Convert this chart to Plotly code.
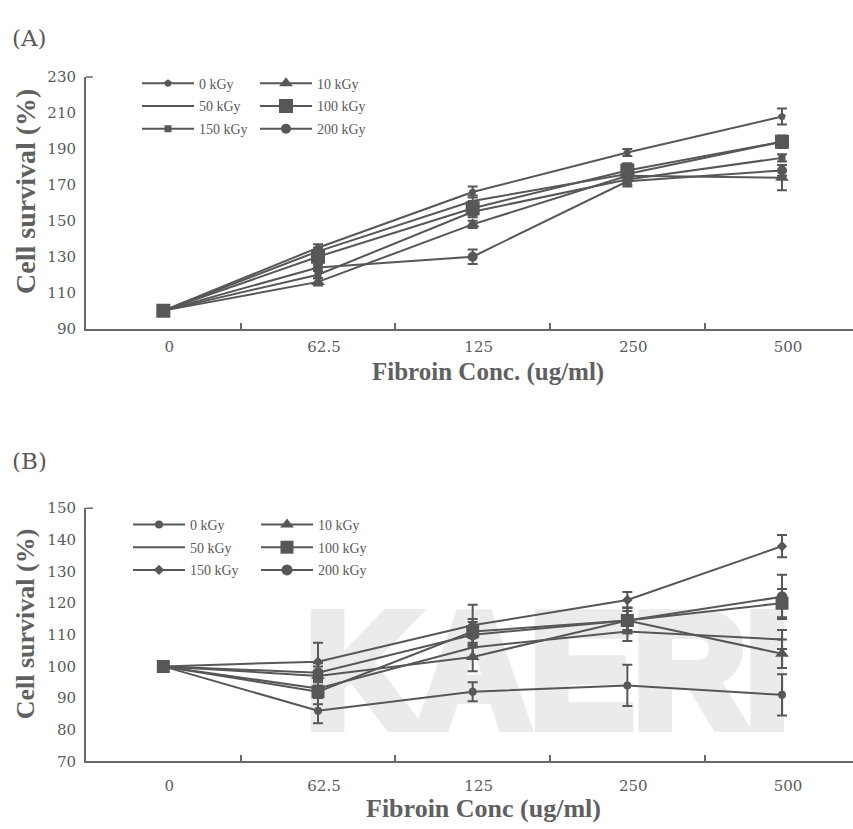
import base64
import plotly.graph_objects as go

# ---------------- data ----------------
categories = ["0", "62.5", "125", "250", "500"]
series_names = ["0 kGy", "10 kGy", "50 kGy", "100 kGy", "150 kGy", "200 kGy"]

# Panel (A)
a_0kgy = [100, 135, 166, 188, 208]
a_0kgy_err = [0, 2, 3, 2, 4.5]
a_10kgy = [100, 116, 148, 175, 174]
a_10kgy_err = [0, 2, 2, 3, 7]
a_50kgy = [100, 133, 161, 176, 194]
a_50kgy_err = [0, 2, 3, 3, 3]
a_100kgy = [100, 130, 157, 178, 194]
a_100kgy_err = [0, 4, 4, 4, 3.5]
a_150kgy = [100, 120, 155, 173, 185]
a_150kgy_err = [0, 2, 3, 3, 2]
a_200kgy = [100, 124, 130, 172, 178]
a_200kgy_err = [0, 2, 4, 3, 3]

# Panel (B)
b_0kgy = [100, 86, 92, 94, 91]
b_0kgy_err = [0, 4, 3, 6.5, 6.5]
b_10kgy = [100, 97, 103, 114.5, 104]
b_10kgy_err = [0, 3, 4.5, 3, 4.5]
b_50kgy = [100, 93, 106, 111, 108.5]
b_50kgy_err = [0, 3, 3, 3, 3]
b_100kgy = [100, 92, 111, 114.5, 120]
b_100kgy_err = [0, 4, 4, 4, 4.5]
b_150kgy = [100, 101.5, 113, 121, 138]
b_150kgy_err = [0, 6, 6.5, 2.5, 3.5]
b_200kgy = [100, 98, 110, 114.5, 122]
b_200kgy_err = [0, 3, 4, 4, 7]

a_title = "Fibroin Conc. (ug/ml)"
b_title = "Fibroin Conc (ug/ml)"
y_title = "Cell survival (%)"
watermark = "KAERI"

# ---------------- style ----------------
W, H = 853, 829
LINE = "#575757"
TXT = "#5a5a5a"
SERIF = "DejaVu Serif"
TSERIF = "Liberation Serif"

def px_x(x):
    return x / W

def px_y(y):
    return 1 - y / H

fig = go.Figure()

a_series = [
    ("0 kGy", a_0kgy, a_0kgy_err, "pentagon", 8, "legend", 1),
    ("50 kGy", a_50kgy, a_50kgy_err, None, 0, "legend", 2),
    ("150 kGy", a_150kgy, a_150kgy_err, "square", 7, "legend", 3),
    ("10 kGy", a_10kgy, a_10kgy_err, "triangle-up", 12, "legend2", 1),
    ("200 kGy", a_200kgy, a_200kgy_err, "circle", 10, "legend2", 3),
    ("100 kGy", a_100kgy, a_100kgy_err, "square", 14, "legend2", 2),
]
b_series = [
    ("0 kGy", b_0kgy, b_0kgy_err, "circle", 8, "legend3", 1),
    ("50 kGy", b_50kgy, b_50kgy_err, None, 0, "legend3", 2),
    ("150 kGy", b_150kgy, b_150kgy_err, "diamond", 8, "legend3", 3),
    ("10 kGy", b_10kgy, b_10kgy_err, "triangle-up", 12, "legend4", 1),
    ("200 kGy", b_200kgy, b_200kgy_err, "circle", 11, "legend4", 3),
    ("100 kGy", b_100kgy, b_100kgy_err, "square", 13, "legend4", 2),
]

def add(series, xa, ya, tag):
    for name, vals, err, sym, size, leg, rank in series:
        mode = "lines+markers" if sym else "lines"
        fig.add_trace(go.Scatter(
            x=categories, y=vals, name=name, mode=mode,
            xaxis=xa, yaxis=ya,
            line=dict(color=LINE, width=2),
            marker=dict(symbol=sym or "circle", size=size, color=LINE,
                        line=dict(width=0)),
            error_y=dict(type="data", array=err, visible=True,
                         color=LINE, thickness=2, width=5),
            legend=leg, legendrank=rank, legendgroup=tag + name,
            showlegend=True,
        ))

add(a_series, "x", "y", "a")
add(b_series, "x2", "y2", "b")

xcommon = dict(
    type="category", range=[-0.5, 4.459],
    showline=True, linecolor="#6a6a6a", linewidth=2,
    ticks="inside", tickson="boundaries", ticklen=6, tickwidth=1.5,
    tickcolor="#6a6a6a",
    showgrid=False, zeroline=False,
    tickfont=dict(family=SERIF, size=15, color=TXT),
    ticklabelshift=6,
    domain=[px_x(86), 1],
)
ycommon = dict(
    showline=True, linecolor="#6a6a6a", linewidth=2,
    ticks="", showgrid=False, zeroline=False,
    tickfont=dict(family=SERIF, size=15, color=TXT),
    ticklabelstandoff=5,
)

fig.update_layout(
    width=W, height=H,
    margin=dict(l=0, r=0, t=0, b=0),
    paper_bgcolor="white", plot_bgcolor="rgba(0,0,0,0)",
    xaxis=dict(**xcommon, anchor="y", ticklabelstandoff=3),
    yaxis=dict(**ycommon, anchor="x", range=[90, 230], tickmode="array",
               tickvals=[90, 110, 130, 150, 170, 190, 210, 230],
               domain=[px_y(326.7), px_y(69.5)]),
    xaxis2=dict(**xcommon, anchor="y2", ticklabelstandoff=10),
    yaxis2=dict(**ycommon, anchor="x2", range=[70, 150], tickmode="array",
                tickvals=[70, 80, 90, 100, 110, 120, 130, 140, 150],
                domain=[px_y(769), px_y(510.3)]),
    showlegend=True,
)

leg_common = dict(
    bgcolor="rgba(0,0,0,0)", borderwidth=0,
    font=dict(family=TSERIF, size=14, color=TXT),
    itemwidth=52, traceorder="grouped", tracegroupgap=1.5,
    xanchor="left", yanchor="top", itemclick=False, itemdoubleclick=False,
)
fig.update_layout(
    legend=dict(**leg_common, x=px_x(137), y=px_y(60)),
    legend2=dict(**leg_common, x=px_x(255), y=px_y(60)),
    legend3=dict(**leg_common, x=px_x(128), y=px_y(511)),
    legend4=dict(**leg_common, x=px_x(256), y=px_y(511)),
)

ann = []
ann.append(dict(text="(A)", x=px_x(10), y=px_y(30), xref="paper", yref="paper",
                xanchor="left", yanchor="middle", showarrow=False,
                font=dict(family=SERIF, size=23, color=TXT)))
ann.append(dict(text="(B)", x=px_x(10), y=px_y(462), xref="paper", yref="paper",
                xanchor="left", yanchor="middle", showarrow=False,
                font=dict(family=SERIF, size=23, color=TXT)))
ann.append(dict(text="<b>" + a_title + "</b>", x=px_x(488), y=px_y(371),
                xref="paper", yref="paper", xanchor="center", yanchor="middle",
                showarrow=False, font=dict(family=TSERIF, size=25, color="#606060")))
ann.append(dict(text="<b>" + b_title + "</b>", x=px_x(483), y=px_y(817),
                xref="paper", yref="paper", xanchor="center", yanchor="middle",
                showarrow=False, font=dict(family=TSERIF, size=26, color="#606060")))
ann.append(dict(text="<b>" + y_title + "</b>", x=px_x(26), y=px_y(187),
                xref="paper", yref="paper", xanchor="center", yanchor="middle",
                textangle=-90, showarrow=False,
                font=dict(family=TSERIF, size=28, color="#606060")))
ann.append(dict(text="<b>" + y_title + "</b>", x=px_x(25), y=px_y(629),
                xref="paper", yref="paper", xanchor="center", yanchor="middle",
                textangle=-90, showarrow=False,
                font=dict(family=TSERIF, size=26, color="#606060")))
fig.update_layout(annotations=ann)

# watermark as an embedded SVG image placed behind the data
svg = (
    '<svg xmlns="http://www.w3.org/2000/svg" width="495" height="130" '
    'viewBox="0 0 495 130">'
    '<text x="6" y="124" font-family="Liberation Sans, Arial, sans-serif" '
    'font-weight="bold" font-size="165" fill="#ebebeb" stroke="#ebebeb" '
    'stroke-width="12" stroke-linejoin="miter" textLength="483" '
    'lengthAdjust="spacingAndGlyphs">' + watermark + '</text></svg>'
)
src = "data:image/svg+xml;base64," + base64.b64encode(svg.encode()).decode()
fig.add_layout_image(dict(
    source=src, xref="paper", yref="paper",
    x=px_x(300), y=px_y(609), sizex=495 / W, sizey=130 / H,
    xanchor="left", yanchor="top", sizing="stretch", layer="below", opacity=1,
))

shapes = [
    # small top ticks on the y axes
    dict(type="line", xref="x domain", yref="y domain", x0=0, x1=0.009, y0=1, y1=1,
         line=dict(color="#6a6a6a", width=1.5)),
    dict(type="line", xref="x2 domain", yref="y2 domain", x0=0, x1=0.009, y0=1, y1=1,
         line=dict(color="#6a6a6a", width=1.5)),
]
fig.update_layout(shapes=shapes)

fig.write_html("out.html")
